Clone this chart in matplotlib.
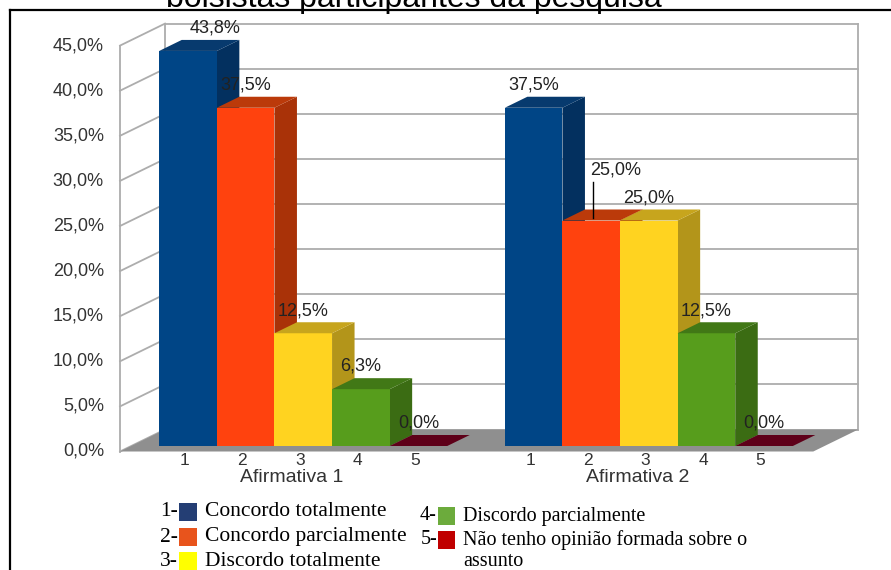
import matplotlib
matplotlib.use("Agg")
import matplotlib.pyplot as plt
from matplotlib.patches import Polygon, Rectangle
from matplotlib.lines import Line2D

# dados
grupos = ["Afirmativa 1", "Afirmativa 2"]
respostas = ["Concordo totalmente", "Concordo parcialmente", "Discordo totalmente",
             "Discordo parcialmente", "Não tenho opinião formada sobre o assunto"]
afirmativa1 = [43.8, 37.5, 12.5, 6.3, 0.0]
afirmativa2 = [37.5, 25.0, 25.0, 12.5, 0.0]
ticks_y = [0, 5, 10, 15, 20, 25, 30, 35, 40, 45]
rotulos_x = ["1", "2", "3", "4", "5"]
titulo = "bolsistas participantes da pesquisa"

# cores (frente, lado, topo) estilo LibreOffice
cores_frente = ["#004586", "#ff420e", "#ffd320", "#579d1c", "#7e0021"]
cores_lado = ["#03305f", "#a93208", "#b3951a", "#3b6c13", "#5a0018"]
cores_topo = ["#073a6e", "#bb3a0a", "#c7a51d", "#417816", "#5e0019"]
cores_legenda = ["#243e74", "#e8541c", "#ffff00", "#6cab3c", "#c00000"]

W, H = 891, 570
X0, Y0 = 148, 451.5        # pixel do x=0, y=0 no plano frontal
PX_X, PX_Y = 57.6, 9.02    # pixels por unidade
DX, DY = 45 / PX_X, 22 / PX_Y   # deslocamento da profundidade total
SANS = ["Liberation Sans", "DejaVu Sans"]
SERIF = ["Liberation Serif", "DejaVu Serif"]


def proj(x, y, d):
    return (x + DX * d, y + DY * d)


fig = plt.figure(figsize=(W / 100, H / 100), dpi=100)
ax = fig.add_axes([0, 0, 1, 1])
ax.set_xlim(-X0 / PX_X, (W - X0) / PX_X)
ax.set_ylim((Y0 - H) / PX_Y, Y0 / PX_Y)
ax.axis("off")

x_esq, x_dir = -0.486, 11.55
ymax = ticks_y[-1]
cinza = "#adadad"

# chao
ax.add_patch(Polygon([proj(x_esq, 0, 0), proj(x_dir, 0, 0), proj(x_dir, 0, 1), proj(x_esq, 0, 1)],
                     closed=True, facecolor="#8f8f8f", edgecolor="none", zorder=1))
# paredes
for v in ticks_y:
    ax.plot(*zip(proj(x_esq, v, 0), proj(x_esq, v, 1)), color=cinza, lw=1.3, zorder=0.5)
    ax.plot(*zip(proj(x_esq, v, 1), proj(x_dir, v, 1)), color=cinza, lw=1.3, zorder=0.5)
    ax.text(x_esq - 0.28, v, f"{v:.1f}%".replace(".", ","), ha="right", va="center",
            fontsize=13, family=SANS, color="#333333")
ax.plot(*zip(proj(x_esq, 0, 0), proj(x_esq, ymax, 0)), color=cinza, lw=1.3, zorder=0.5)
ax.plot(*zip(proj(x_esq, 0, 1), proj(x_esq, ymax, 1)), color=cinza, lw=1.3, zorder=0.5)
ax.plot(*zip(proj(x_dir, 0, 1), proj(x_dir, ymax, 1)), color=cinza, lw=1.3, zorder=0.5)

# barras 3D
d0, d1 = 0.25, 0.75
ajustes = {(0, 0): (0.47, 0.0), (1, 1): (0.42, 3.1)}
for g, valores in enumerate([afirmativa1, afirmativa2]):
    base = g * 6
    for i, v in enumerate(valores):
        x = base + i
        if v > 0:
            lado = [proj(x + 1, 0, d0), proj(x + 1, 0, d1), proj(x + 1, v, d1), proj(x + 1, v, d0)]
            ax.add_patch(Polygon(lado, closed=True, facecolor=cores_lado[i], edgecolor="none", zorder=2))
            fx, fy = proj(x, 0, d0)
            ax.add_patch(Rectangle((fx, fy), 1, v, facecolor=cores_frente[i], edgecolor="none", zorder=2))
        topo = [proj(x, v, d0), proj(x + 1, v, d0), proj(x + 1, v, d1), proj(x, v, d1)]
        ax.add_patch(Polygon(topo, closed=True, facecolor=cores_topo[i], edgecolor="none", zorder=2))

        cx = proj(x + 0.5, 0, d0)[0]
        ox, oy = ajustes.get((g, i), (0, 0))
        ax.text(cx + ox, v + DY * d1 + 1.3 + oy, f"{v:.1f}%".replace(".", ","), ha="center",
                va="center", fontsize=13, family=SANS, color="#222222", zorder=5)
        if (g, i) in ajustes and oy > 0:
            ax.plot([cx + 0.03, cx + 0.03], [v + 0.9, v + 4.9], color="black", lw=1, zorder=5)
        ax.text(cx - 0.06, -0.95, rotulos_x[i], ha="center", va="center",
                fontsize=12.5, family=SANS, color="#333333")
    gx = proj(base + 2.5, 0, d0)[0] - 0.2
    ax.text(gx, -2.85, grupos[g], ha="center", va="center", fontsize=14, family=SANS, color="#333333")

# moldura e titulo
fig.add_artist(Line2D([10 / W, 1], [1 - 10 / H] * 2, color="black", lw=1.6))
fig.add_artist(Line2D([10 / W] * 2, [0, 1 - 10 / H], color="black", lw=1.6))
fig.text(414 / W, 1 - 7 / H, titulo, ha="center", va="baseline", fontsize=23, family=SANS)

# legenda
posicoes = [(178, 512), (178, 537), (178, 561), (437, 516), (437, 540)]
for i, (px, py) in enumerate(posicoes):
    fs = 15.5 if i < 3 else 14.5
    fig.text(px / W, 1 - py / H, f"{i + 1}-", ha="right", va="center", fontsize=fs, family=SERIF)
    lado_q = 18 if i < 3 else 17
    fig.add_artist(Rectangle(((px + 1) / W, 1 - (py + 9) / H), lado_q / W, 18 / H,
                             facecolor=cores_legenda[i], edgecolor="none", transform=fig.transFigure))
    tx = 205 if i < 3 else 463
    texto = respostas[i]
    if i == 4:
        texto = "Não tenho opinião formada sobre o\nassunto"
        fig.text(tx / W, 1 - (py - 10) / H, texto, ha="left", va="top", fontsize=fs,
                 family=SERIF, linespacing=1.12)
    else:
        fig.text(tx / W, 1 - py / H, texto, ha="left", va="center", fontsize=fs, family=SERIF)

fig.savefig("out.png", dpi=100)
